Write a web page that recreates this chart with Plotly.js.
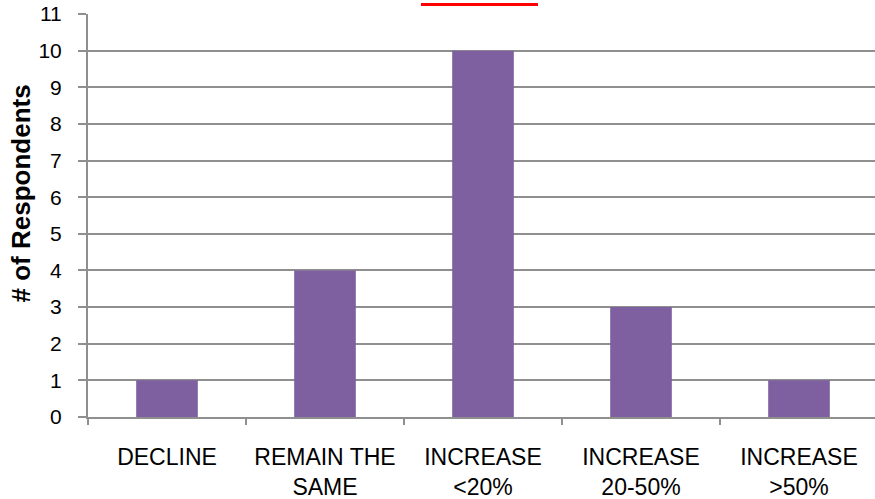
<!DOCTYPE html>
<html>
<head>
<meta charset="utf-8">
<script src="https://cdn.plot.ly/plotly-3.0.1.min.js"></script>
<style>html,body{margin:0;padding:0;background:#fff;}#chart{width:875px;height:499px;}</style>
</head>
<body>
<div id="chart"></div>
<script>
var categories = ["DECLINE", "REMAIN THE<br>SAME", "INCREASE<br>&lt;20%", "INCREASE<br>20-50%", "INCREASE<br>&gt;50%"];
var respondents = [1, 4, 10, 3, 1];
var yTickValues = [0, 1, 2, 3, 4, 5, 6, 7, 8, 9, 10, 11];

var gridColor = '#8f8f8f';
var trace = {
  type: 'bar',
  x: categories,
  y: respondents,
  width: 0.39,
  marker: {color: '#7E5F9F'},
  hoverinfo: 'x+y'
};
var layout = {
  width: 875, height: 499,
  margin: {l: 88, r: 0, t: 14, b: 82, pad: 0},
  paper_bgcolor: '#ffffff', plot_bgcolor: '#ffffff',
  showlegend: false,
  font: {family: '"Liberation Sans", Arial, sans-serif', color: '#000000'},
  xaxis: {
    type: 'category',
    range: [-0.5, 4.481],
    tickson: 'boundaries',
    ticks: 'outside', ticklen: 6, tickwidth: 2, tickcolor: gridColor,
    showline: true, linecolor: gridColor, linewidth: 2,
    showgrid: false,
    tickfont: {size: 23, family: '"Liberation Sans", Arial, sans-serif', color: '#000'},
    ticklabelstandoff: 18,
    fixedrange: true
  },
  yaxis: {
    range: [0, 11],
    tickvals: yTickValues,
    ticktext: yTickValues.map(String),
    ticks: 'outside', ticklen: 8, tickwidth: 2, tickcolor: gridColor,
    showline: true, linecolor: gridColor, linewidth: 2,
    showgrid: true, gridcolor: gridColor, gridwidth: 2,
    zeroline: false,
    tickfont: {size: 21, family: '"Liberation Sans", Arial, sans-serif', color: '#000'},
    ticklabelstandoff: 12,
    fixedrange: true
  },
  shapes: [{
    type: 'rect', xref: 'paper', yref: 'paper',
    x0: 0.4231, x1: 0.5718, y0: 1.0199, y1: 1.0273,
    fillcolor: '#ff0000', line: {width: 0}
  }],
  annotations: [{
    text: '<b># of Respondents</b>',
    xref: 'paper', yref: 'paper',
    x: -0.0839, y: 0.5546,
    xanchor: 'center', yanchor: 'middle',
    textangle: -90, showarrow: false,
    font: {size: 26, family: '"Liberation Sans", Arial, sans-serif', color: '#000'}
  }]
};
Plotly.newPlot('chart', [trace], layout, {displayModeBar: false, staticPlot: true});
</script>
</body>
</html>
